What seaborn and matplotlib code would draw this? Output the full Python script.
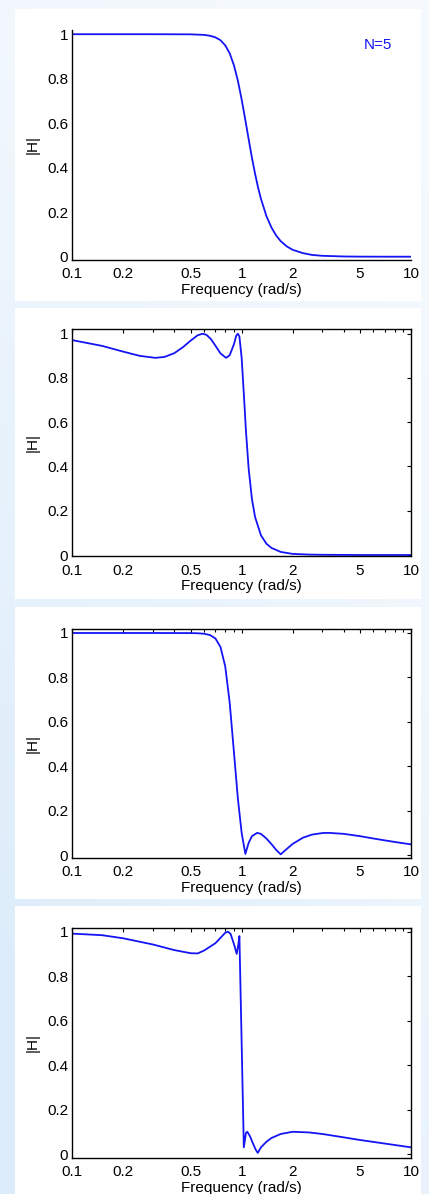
import numpy as np
import pandas as pd
import matplotlib
matplotlib.use("Agg")
import matplotlib.pyplot as plt
import seaborn as sns
from matplotlib.patches import Rectangle
from matplotlib.ticker import FixedLocator, NullFormatter, FixedFormatter

# ---------------- data ----------------
butter_freq = [0.1, 0.3, 0.5, 0.6, 0.65, 0.7, 0.75, 0.8, 0.85, 0.9, 0.95, 1.0,
               1.05, 1.1, 1.15, 1.2, 1.25, 1.3, 1.4, 1.5, 1.6, 1.7, 1.85, 2.0,
               2.3, 2.6, 3.0, 4.0, 5.0, 7.0, 10.0]
butter_mag = [1.0, 1.0, 0.9995, 0.997, 0.993, 0.986, 0.973, 0.950, 0.914, 0.861,
              0.791, 0.707, 0.617, 0.528, 0.445, 0.373, 0.311, 0.260, 0.183,
              0.131, 0.095, 0.070, 0.046, 0.031, 0.016, 0.008, 0.004, 0.001,
              0.0003, 0.0, 0.0]

cheb1_freq = [0.1, 0.15, 0.2, 0.25, 0.309, 0.35, 0.4, 0.45, 0.5, 0.55, 0.588,
              0.62, 0.66, 0.7, 0.75, 0.809, 0.85, 0.9, 0.93, 0.951, 0.97, 1.0,
              1.03, 1.06, 1.1, 1.15, 1.2, 1.3, 1.4, 1.5, 1.7, 2.0, 2.5, 3.0,
              5.0, 10.0]
cheb1_mag = [0.971, 0.945, 0.919, 0.900, 0.891, 0.895, 0.912, 0.939, 0.969,
             0.993, 1.0, 0.995, 0.975, 0.946, 0.911, 0.891, 0.903, 0.952, 0.992,
             1.0, 0.987, 0.891, 0.729, 0.562, 0.390, 0.253, 0.172, 0.089, 0.051,
             0.032, 0.014, 0.005, 0.002, 0.001, 0.0, 0.0]

cheb2_freq = [0.1, 0.3, 0.5, 0.55, 0.6, 0.65, 0.7, 0.75, 0.8, 0.85, 0.9, 0.95,
              1.0, 1.0515, 1.1, 1.15, 1.236, 1.3, 1.4, 1.5, 1.6, 1.7013, 1.8,
              2.0, 2.3, 2.6, 3.0, 3.236, 4.0, 5.0, 6.0, 7.0, 8.0, 10.0]
cheb2_mag = [1.0, 1.0, 0.9996, 0.9988, 0.9967, 0.9908, 0.9754, 0.937, 0.8495,
             0.686, 0.465, 0.254, 0.100, 0.005, 0.055, 0.085, 0.100, 0.095,
             0.0745, 0.049, 0.023, 0.003, 0.020, 0.050, 0.078, 0.092, 0.099,
             0.100, 0.0955, 0.085, 0.0745, 0.066, 0.059, 0.048]

ellip_freq = [0.1, 0.15, 0.2, 0.3, 0.4, 0.5, 0.55, 0.6, 0.7, 0.75, 0.8, 0.83,
              0.86, 0.9, 0.935, 0.955, 0.97, 1.03, 1.06, 1.08, 1.12, 1.17, 1.21,
              1.245, 1.3, 1.4, 1.5, 1.7, 2.0, 2.5, 3.0, 4.0, 5.0, 7.0, 10.0]
ellip_mag = [0.991, 0.984, 0.970, 0.942, 0.917, 0.903, 0.902, 0.915, 0.948,
             0.972, 0.995, 1.0, 0.99, 0.945, 0.900, 0.940, 0.980, 0.030, 0.095,
             0.100, 0.080, 0.045, 0.020, 0.005, 0.030, 0.055, 0.072, 0.090,
             0.100, 0.097, 0.090, 0.075, 0.063, 0.047, 0.030]

xtick_vals = [0.1, 0.2, 0.5, 1, 2, 5, 10]
xtick_labels = ["0.1", "0.2", "0.5", "1", "2", "5", "10"]
ytick_vals = [0, 0.2, 0.4, 0.6, 0.8, 1]
ytick_labels = ["0", "0.2", "0.4", "0.6", "0.8", "1"]
annotation = "N=5"

panels = [
    (butter_freq, butter_mag),
    (cheb1_freq, cheb1_mag),
    (cheb2_freq, cheb2_mag),
    (ellip_freq, ellip_mag),
]

# ---------------- style ----------------
sns.set_theme(style="white")
plt.rcParams["font.family"] = ["Liberation Sans", "DejaVu Sans"]
plt.rcParams["text.color"] = "black"
plt.rcParams["axes.labelcolor"] = "black"
plt.rcParams["xtick.color"] = "black"
plt.rcParams["ytick.color"] = "black"

FS = 11
W, H = 429, 1194
fig = plt.figure(figsize=(W / 100, H / 100), dpi=100)

# background gradient
bg = fig.add_axes([0, 0, 1, 1], zorder=-10)
xx, yy = np.meshgrid(np.linspace(0, 1, 64), np.linspace(0, 1, 256))
t = yy * (1 - 0.55 * xx) + 0.15 * (1 - xx)
t = np.clip(t, 0, 1)
light = np.array([246, 250, 254]) / 255
dark = np.array([220, 236, 250]) / 255
img = light[None, None, :] + (dark - light)[None, None, :] * t[..., None]
bg.imshow(img, aspect="auto", extent=[0, 1, 1, 0], origin="upper")
bg.set_xlim(0, 1)
bg.set_ylim(1, 0)
bg.axis("off")

# white panels (pixel coordinates -> figure fraction)
white_rects = [(15, 9, 421, 301), (15, 308, 421, 599),
               (15, 607, 421, 899), (15, 906, 421, 1194)]
for x0, y0, x1, y1 in white_rects:
    fig.patches.append(Rectangle((x0 / W, 1 - y1 / H), (x1 - x0) / W, (y1 - y0) / H,
                                 transform=fig.transFigure, facecolor="white",
                                 edgecolor="none", zorder=-5))

# axes boxes: (top_px, bottom_px, ylim_bottom, ylim_top)
boxes = [(30, 259.5, -0.0126, 1.019),
         (329.3, 556, -0.0045, 1.020),
         (629, 857.7, -0.012, 1.018),
         (928.3, 1157.7, -0.0166, 1.015)]
left_px, right_px = 72.3, 411

minor_x = [0.3, 0.4, 0.6, 0.7, 0.8, 0.9, 3, 4, 6, 7, 8, 9]

for i, ((freq, mag), (top, bot, ylo, yhi)) in enumerate(zip(panels, boxes)):
    ax = fig.add_axes([left_px / W, 1 - bot / H, (right_px - left_px) / W, (bot - top) / H])
    ax.set_facecolor("none")
    df = pd.DataFrame({"Frequency": freq, "H": mag})
    sns.lineplot(data=df, x="Frequency", y="H", ax=ax, color="#1414f5",
                 linewidth=1.3, sort=False)
    ax.set_xscale("log")
    ax.set_xlim(0.1, 10)
    ax.set_ylim(ylo, yhi)
    ax.xaxis.set_major_locator(FixedLocator(xtick_vals))
    ax.xaxis.set_major_formatter(FixedFormatter(xtick_labels))
    ax.xaxis.set_minor_locator(FixedLocator(minor_x))
    ax.xaxis.set_minor_formatter(NullFormatter())
    ax.set_yticks(ytick_vals)
    ax.set_yticklabels(ytick_labels)
    box = i > 0
    ax.tick_params(axis="both", which="major", direction="in", length=3, width=0.8,
                   labelsize=FS, pad=3, top=box, right=box)
    ax.tick_params(axis="both", which="minor", direction="in", length=2.5, width=0.8,
                   top=box, right=box)
    ax.tick_params(axis="x", pad=5.5)
    for side in ["left", "bottom", "top", "right"]:
        ax.spines[side].set_color("black")
        ax.spines[side].set_linewidth(1.0)
    if not box:
        ax.spines["top"].set_visible(False)
        ax.spines["right"].set_visible(False)
    ax.set_xlabel("Frequency (rad/s)", fontsize=FS, labelpad=1)
    ax.set_ylabel("|H|", fontsize=FS, labelpad=5)
    ax.grid(False)
    if i == 0:
        ax.text(0.9026, 0.9346, annotation, transform=ax.transAxes, color="#1414f5",
                fontsize=FS, ha="center", va="center")

fig.savefig("out.png", dpi=100)
